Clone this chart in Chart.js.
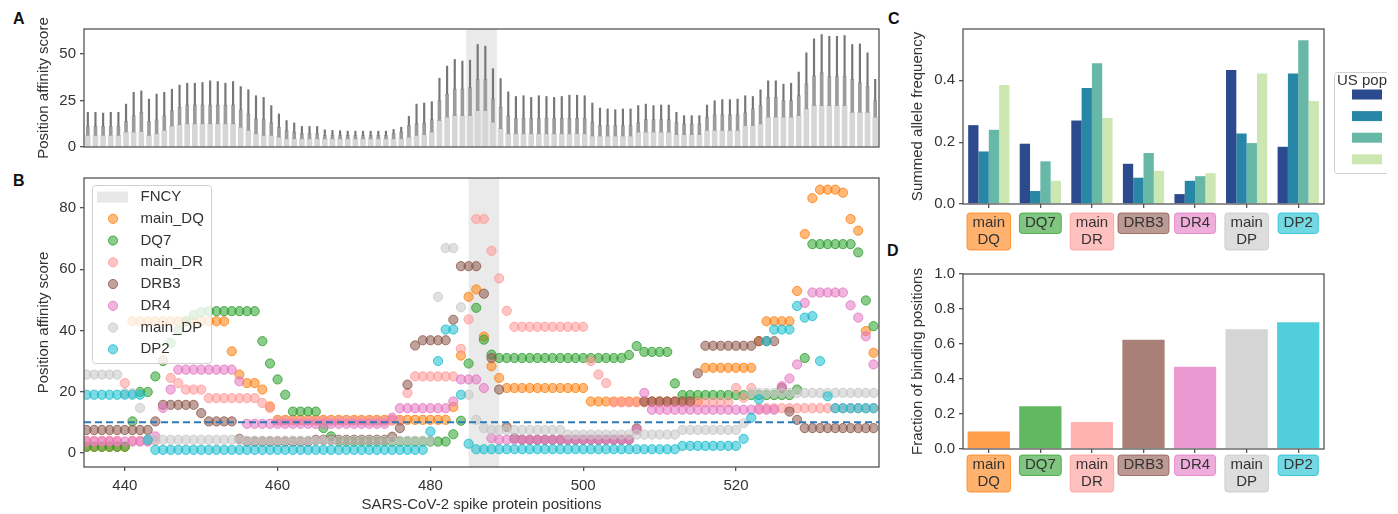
<!DOCTYPE html>
<html><head><meta charset="utf-8">
<script src="https://cdn.jsdelivr.net/npm/chart.js@4.4.1/dist/chart.umd.min.js"></script>
<style>
html,body{margin:0;padding:0;background:#fff;width:1398px;height:514px;overflow:hidden;position:relative;}
canvas{position:absolute;}
.lbl{position:absolute;font:bold 16px "Liberation Sans",Arial,sans-serif;color:#111;line-height:16px;}
</style></head><body>
<div class="lbl" style="left:13px;top:11px">A</div>
<div class="lbl" style="left:13px;top:173px">B</div>
<div class="lbl" style="left:888px;top:11px">C</div>
<div class="lbl" style="left:887px;top:243px">D</div>
<canvas id="cA" width="900" height="160" style="left:0;top:0"></canvas>
<canvas id="cB" width="900" height="354" style="left:0;top:160px"></canvas>
<canvas id="cC" width="518" height="260" style="left:880px;top:0"></canvas>
<canvas id="cD" width="518" height="254" style="left:880px;top:260px"></canvas>
<script>
// ---------- data ----------
const positions = [435,436,437,438,439,440,441,442,443,444,445,446,447,448,449,450,451,452,453,454,
455,456,457,458,459,460,461,462,463,464,465,466,467,468,469,470,471,472,473,474,
475,476,477,478,479,480,481,482,483,484,485,486,487,488,489,490,491,492,493,494,
495,496,497,498,499,500,501,502,503,504,505,506,507,508,509,510,511,512,513,514,
515,516,517,518,519,520,521,522,523,524,525,526,527,528,529,530,531,532,533,534,
535,536,537,538];

// Panel A: per-position score distribution (lower box edge, upper box edge, maximum)
const aQ1 = [6.2,6.2,6.2,6.2,6.2,8,8,8.3,6.2,7.1,
8.9,11.2,11.9,12.4,12.4,12.4,12.4,12.4,12.4,12.4,
10.6,8.9,7.1,6.2,6.2,5.3,4.4,4.4,4.4,4.4,
4.4,4.4,4.4,4.4,4.4,4.4,4.4,4.4,4.4,4.4,
4.4,4.4,5.3,6.2,6.6,8,14.2,16,16.8,16.8,
16.8,19.5,19.5,13.3,9.8,7.1,7.1,7.1,7.1,7.1,
7.1,7.1,7.1,7.1,7.1,7.1,5.9,5.9,5.9,5.9,
5.9,5.9,8,8,8,8,8,6.6,6.6,6.6,
6.6,8.9,8.9,8.9,8.9,8.9,11.5,11.5,12.4,16,
16,16,16,16.8,20.4,22.2,22.2,22.2,22.2,22.2,
18.6,18.6,18.6,16];
const aQ3 = [11,11,11,11,11,13.7,16.8,18.6,13.7,14.5,
16.8,19.5,21.3,22.5,22.5,22.5,22.5,22.5,22.5,22.5,
19.9,17.7,15.1,14.7,12.9,10.6,8.9,8.0,7.1,7.1,
7.1,6.2,6.2,6.2,6.2,6.2,6.2,6.2,6.2,6.2,
7.1,8.0,11.5,12.4,12.9,14.7,24.8,28.4,31.0,31.0,
31.9,36.3,36.3,25.7,21.3,16.8,15.4,15.4,15.4,15.4,
15.4,15.4,15.4,15.4,15.4,15.4,13.3,11.5,11.5,11.5,
11.5,11.5,12.9,14.7,14.7,14.7,14.7,12.9,12.4,12.4,
12.4,16.0,17.2,17.2,17.2,17.2,18.3,20.4,22.2,26.6,
26.6,24.8,24.8,27.5,33.7,38.1,39.9,37.8,37.8,37.8,
36.3,34.6,32.4,24.8];
const aMax = [18.6,18.6,18.2,18.6,18.6,23.0,29.3,30.1,25.7,28.4,
29.3,31.0,33.2,34.2,34.2,34.6,35.5,35.1,34.2,35.1,
32.4,30.7,27.5,26.6,22.2,17.7,14.2,12.9,11.0,11.0,
11.0,9.2,8.9,8.7,8.5,8.5,8.5,8.5,8.5,8.5,
9.4,10.6,16.5,23.0,23.6,24.3,36.9,43.4,47.0,46.1,
46.6,55.0,54.1,42.0,36.7,29.6,27.1,27.5,26.6,27.5,
27.1,26.6,27.1,27.8,27.8,27.5,23.6,20.9,20.4,20.0,
20.4,20.4,22.2,23.0,22.2,22.5,22.5,18.6,16.8,16.8,
16.8,22.5,24.8,25.4,25.4,25.7,27.5,27.1,30.7,35.5,
35.5,33.7,34.2,40.2,50.5,58.0,60.3,59.4,59.4,59.8,
55.0,55.3,50.5,36.3];

// Panel B series
const mainDQ = [2,2,2,2,2,2,43,43,43,43,
43,43,43,43,43,43,43,43,43,33.2,
25.6,22.8,22.8,20.7,15.2,10.8,10.8,10.8,10.8,10.8,
10.8,10.8,10.8,10.8,10.8,10.8,10.8,10.8,10.8,10.8,
10.8,10.8,10.8,10.8,10.8,10.8,10.8,10.8,15,31.8,
51,53.4,38,28.3,24.5,21.2,21.2,21.2,21.2,21.2,
21.2,21.2,21.2,21.2,21.2,21.2,16.8,16.8,16.8,16.8,
16.8,16.8,16.8,16.8,16.8,16.8,16.8,16.8,16.8,16.8,
16.8,27.8,27.8,27.8,27.8,27.8,27.8,27.8,36.5,43,
43,43,43,52.9,71.5,83.2,86,86,86,85,
76.4,72.6,39.8,32.7];
const dq7 = [2,2,2,2,2,2,10.3,19.9,19.9,25,
30,36,40,43,45,46,46.3,46.3,46.3,46.3,
46.3,46.3,46.3,36.5,29.2,24,19,13.5,13.5,13.5,
13.5,8.1,5.4,3.7,3.7,3.7,3.7,3.7,3.7,3.7,
3.7,3.7,3.7,3.7,3.7,3.7,3.7,3.7,6.1,10.5,
29.2,47.4,37,32.1,31,31,31,31,31,31,
31,31,31,31,31,31,31,31,31,31,
31,32,34.9,33,33,33,33,22.7,18.9,18.9,
18.9,18.9,18.9,18.9,18.9,18.9,18.9,18.9,18.9,18.9,
18.9,18.9,18.9,20.7,31,68.2,68.2,68.2,68.2,68.2,
68.2,65.5,49.8,41.4];
const mainDR = [4,4,4,4,4,22.8,4,4,4,4,
30.5,24.5,22.8,20.7,20.7,20.7,17.9,17.9,17.9,17.9,
17.9,17.9,17.9,16.3,14.7,10.5,10.5,10.5,10.5,10.5,
10.5,10.5,10.5,10.5,10.5,10.5,10.5,10.5,10.5,10.5,
10.5,10.5,19.6,25,25,25,25,25,25,34,
43.6,76.4,76.4,66,57,46.4,41.2,41.2,41.2,41.2,
41.2,41.2,41.2,41.2,41.2,41.2,30,25.6,22.8,16.5,
16.5,16.5,16.5,16.5,16.5,16.5,16.5,16.5,16.5,16.5,
16.5,16.5,16.5,16.5,16.5,21.2,18,21.2,14.6,14.6,
14.6,14.6,14.6,14.6,14.6,14.6,14.6,14.6,14.6,14.6,
14.6,14.6,14.6,14.6];
const drb3 = [7.5,7.5,7.5,7.5,7.5,7.5,7.5,7.5,7.5,10.3,
15.7,15.7,15.7,15.7,15.7,13,10.3,10.3,10.3,10.3,
4.6,3.7,3.7,3.7,3.7,3.7,3.7,3.7,3.7,3.7,
4.3,4.3,4.3,4.3,4.3,4.3,4.3,4.3,4.3,4.3,
5.3,8.1,22.3,35.1,36.8,36.8,36.8,36.8,43.5,61,
61,61,52,31,20.7,8.5,4.8,4.3,4.3,4.3,
4.3,4.3,4.3,4.3,4.3,4.3,4.3,4.3,4.3,4.3,
4.3,4.3,8,16.8,16.8,16.8,16.8,16.8,16.8,16.8,
26,35,35,35,35,35,35,35,36.5,36.5,
36.5,21.2,13.5,10.8,8.1,8.1,8.1,8.1,8.1,8.1,
8.1,8.1,8.1,8.1];
const dr4 = [3.7,3.7,3.7,3.7,3.7,3.7,3.7,3.7,3.7,5.4,
14.7,20.7,27.2,27.2,27.2,27.2,27.2,27.2,27.2,27.2,
23.4,9.5,9.5,9.5,9.5,9.5,9.5,9.5,9.5,9.5,
9.5,9.5,9.5,9.5,9.5,9.5,9.5,9.5,9.5,9.5,
11.5,14.6,14.6,14.6,14.6,14.6,14.6,14.6,16.8,24,
24,24,21.2,4.8,4.3,4.3,4.3,4.3,4.3,4.3,
4.3,4.3,4.3,4.3,4.3,4.3,4.3,4.3,4.3,4.3,
4.3,4.3,7.5,19.6,14.1,14.1,14.1,14.1,14.1,14.1,
14.1,14.1,14.1,14.1,14.1,14.1,14.1,14.1,14.1,14.1,
14.1,21.8,24.3,28.9,49,52.4,52.4,52.4,52.4,52.4,
48.2,44.2,38.1,28.9];
const mainDP = [25.6,25.6,25.6,25.6,25.6,19.5,19.5,14.7,4.3,4.3,
4.3,4.3,4.3,4.3,4.3,4.3,4.3,4.3,4.3,4.3,
4.3,4,4,4,4,4,4,4,4,4,
4,4,4,4,4,4,4,4,4,4,
4,4,4,4,4,4,51,66.9,66.9,47.6,
19,10.8,8.1,7.5,7.5,7.5,7.5,7.5,7.5,7.5,
7.5,7.5,7.5,6,6,6,6,6,6,6,
6,6,6,6,6,6,6,6,7.5,7.5,
7.5,7.5,7.5,7.5,7.5,7.5,9.7,19.6,19.6,19.6,
19.6,19.6,19.6,19.6,19.6,19.6,19.6,19.6,19.6,19.6,
19.6,19.6,19.6,19.6];
const dp2 = [19,19,19,19,19,19,19,19,4.3,1,
1,1,1,1,1,1,1,1,1,1,
1,1,1,1,1,1,1,1,1,1,
1,1,1,1,1,1,1,1,1,1,
1,1,1,1,1,7,30,40.3,40.3,19,
3,1.2,1.2,1.2,1.2,1.2,1.2,1.2,1.2,1.2,
1.2,1.2,1.2,1.2,1.2,1.2,1.2,1.2,1.2,1.2,
1.2,1.2,1.2,1.2,1.2,1.2,1.2,1.2,2.3,2.3,
2.3,2.3,2.3,2.3,2.3,2.3,4.6,11.5,17.5,36.5,
40.3,40.3,40.3,48,44.2,44.7,30,18.5,14.6,14.6,
14.6,14.6,14.6,14.6];
const threshold = 10;
const fncyStart = 485, fncyEnd = 489;
const bXTicks = [440,460,480,500,520];
const bYTicks = [0,20,40,60,80];
const aYTicks = [0,25,50];

// Panels C and D
const groups = [['main','DQ'],['DQ7'],['main','DR'],['DRB3'],['DR4'],['main','DP'],['DP2']];
const freqPop1 = [0.255,0.195,0.27,0.13,0.032,0.433,0.185];
const freqPop2 = [0.17,0.042,0.375,0.085,0.075,0.228,0.422];
const freqPop3 = [0.24,0.138,0.455,0.165,0.09,0.197,0.53];
const freqPop4 = [0.385,0.075,0.278,0.107,0.1,0.422,0.333];
const bindingFraction = [0.1,0.245,0.155,0.625,0.47,0.685,0.725];
const cYTicks = [0,0.2,0.4];
const dYTicks = [0,0.2,0.4,0.6,0.8,1.0];

// ---------- styling ----------
const FONT = "'Liberation Sans', Arial, Helvetica, sans-serif";
Chart.defaults.font.family = FONT;
Chart.defaults.font.size = 15;
Chart.defaults.color = '#333';
const groupRGB = [[255,127,14],[44,160,44],[255,152,150],[140,86,75],[227,119,194],[199,199,199],[23,190,207]];
const rgba = (c,a)=>`rgba(${c[0]},${c[1]},${c[2]},${a})`;
const popColors = ['#2b4b8e','#2886a7','#67b8a7','#cde7b3'];

function yAxis(min,max,ticks,fmt,title,titlePad,width){
  return {type:'linear',min,max,
    afterBuildTicks:s=>{s.ticks=ticks.map(v=>({value:v}));},
    afterFit:s=>{s.width=width;},
    ticks:{callback:fmt,padding:4,color:'#333',font:{size:15}},
    grid:{display:true,drawOnChartArea:false,drawTicks:true,tickLength:4,color:'#555',lineWidth:1.3},
    border:{display:false},
    title:{display:true,text:title,color:'#333',font:{size:15},padding:{top:titlePad,bottom:0}}
  };
}
const frame = {id:'frame',afterDraw(chart){
  const a=chart.chartArea,c=chart.ctx;c.save();c.strokeStyle='#555';c.lineWidth=1.3;
  c.strokeRect(a.left,a.top,a.right-a.left,a.bottom-a.top);c.restore();}};
function rr(c,x,y,w,h,r){c.beginPath();c.moveTo(x+r,y);c.lineTo(x+w-r,y);c.quadraticCurveTo(x+w,y,x+w,y+r);
  c.lineTo(x+w,y+h-r);c.quadraticCurveTo(x+w,y+h,x+w-r,y+h);c.lineTo(x+r,y+h);c.quadraticCurveTo(x,y+h,x,y+h-r);
  c.lineTo(x,y+r);c.quadraticCurveTo(x,y,x+r,y);c.closePath();}
const shadeCol = 'rgba(185,185,185,0.3)';

// ---------- Panel A ----------
new Chart(document.getElementById('cA'),{
  type:'bar',
  data:{labels:positions,datasets:[
    {data:aQ1,backgroundColor:'#d6d6d6',barThickness:5,grouped:false,order:3},
    {data:aQ1.map((v,i)=>[v,aQ3[i]]),backgroundColor:'#9c9c9c',barThickness:3,grouped:false,order:2},
    {data:aQ3.map((v,i)=>[v,aMax[i]]),backgroundColor:'#767676',barThickness:1.5,grouped:false,order:1}
  ]},
  options:{responsive:false,animation:false,
    layout:{padding:{top:29,right:21,bottom:12,left:0}},
    plugins:{legend:{display:false},tooltip:{enabled:false}},
    scales:{x:{display:false,offset:true},
      y:yAxis(0,63.3,aYTicks,v=>String(v),'Position affinity score',35,84)}},
  plugins:[{id:'shadeA',beforeDatasetsDraw(chart){
      const x=chart.scales.x,a=chart.chartArea,c=chart.ctx;
      const x1=x.getPixelForValue(positions.indexOf(fncyStart)-0.5),x2=x.getPixelForValue(positions.indexOf(fncyEnd)-0.5);
      c.save();c.fillStyle=shadeCol;c.fillRect(x1,a.top,x2-x1,a.bottom-a.top);c.restore();}},frame]
});

// ---------- Panel B ----------
const bSeries = [
  {label:'main_DQ',values:mainDQ,rgb:groupRGB[0]},
  {label:'DQ7',values:dq7,rgb:groupRGB[1]},
  {label:'main_DR',values:mainDR,rgb:groupRGB[2]},
  {label:'DRB3',values:drb3,rgb:groupRGB[3]},
  {label:'DR4',values:dr4,rgb:groupRGB[4]},
  {label:'main_DP',values:mainDP,rgb:groupRGB[5]},
  {label:'DP2',values:dp2,rgb:groupRGB[6]}
];
const bXMin = 434.66, bXMax = 538.72;
const bDatasets = bSeries.map((s,k)=>({type:'scatter',label:s.label,
  data:s.values.map((v,i)=>({x:positions[i],y:v})),
  backgroundColor:rgba(s.rgb,0.55),borderColor:rgba(s.rgb,0.8),borderWidth:1,
  pointRadius:4.6,pointHoverRadius:4.6,order:bSeries.length-k+1,clip:0}));
bDatasets.push({type:'line',label:'threshold',data:[{x:bXMin,y:threshold},{x:bXMax,y:threshold}],
  borderColor:'#2f78b4',borderWidth:2,borderDash:[7,4],pointRadius:0,order:0,clip:0});
const legendB = {id:'legendB',afterDraw(chart){
  const c=chart.ctx;c.save();
  rr(c,92.5,25.5,119,178,3);c.fillStyle='rgba(255,255,255,0.8)';c.fill();c.strokeStyle='#d0d0d0';c.lineWidth=1;c.stroke();
  c.font='15px '+FONT;c.textBaseline='middle';c.fillStyle='#333';
  c.fillStyle='rgba(185,185,185,0.35)';c.fillRect(97,31.5,31,11);
  c.fillStyle='#333';c.fillText('FNCY',140.5,37);
  bSeries.forEach((s,k)=>{const y=58.8+21.75*k;
    c.beginPath();c.arc(113,y,4.6,0,Math.PI*2);c.fillStyle=rgba(s.rgb,0.55);c.fill();
    c.strokeStyle=rgba(s.rgb,0.8);c.lineWidth=1;c.stroke();
    c.fillStyle='#333';c.fillText(s.label,140.5,y);});
  c.restore();}};
new Chart(document.getElementById('cB'),{
  type:'scatter',
  data:{datasets:bDatasets},
  options:{responsive:false,animation:false,
    layout:{padding:{top:18,right:21,bottom:0,left:0}},
    plugins:{legend:{display:false},tooltip:{enabled:false}},
    scales:{
      x:{type:'linear',min:bXMin,max:bXMax,
        afterBuildTicks:s=>{s.ticks=bXTicks.map(v=>({value:v}));},
        afterFit:s=>{s.height=47;},
        ticks:{padding:6,color:'#333',font:{size:15}},
        grid:{display:true,drawOnChartArea:false,drawTicks:true,tickLength:4,color:'#555',lineWidth:1.3},
        border:{display:false},
        title:{display:true,text:'SARS-CoV-2 spike protein positions',color:'#333',font:{size:15},padding:{top:0,bottom:0}}},
      y:yAxis(-4.6,89.8,bYTicks,v=>String(v),'Position affinity score',35,84)}},
  plugins:[{id:'shadeB',beforeDatasetsDraw(chart){
      const x=chart.scales.x,a=chart.chartArea,c=chart.ctx;
      const x1=x.getPixelForValue(fncyStart),x2=x.getPixelForValue(fncyEnd);
      c.save();c.fillStyle=shadeCol;c.fillRect(x1,a.top,x2-x1,a.bottom-a.top);c.restore();}},frame,legendB]
});

// ---------- label boxes for C / D ----------
function boxPlugin(pad){return {id:'boxes',beforeDraw(chart){
  const xs=chart.scales.x,c=chart.ctx;c.save();c.font='15px '+FONT;
  groups.forEach((g,i)=>{const x=xs.getPixelForTick(i);
    const w=Math.max(...g.map(t=>c.measureText(t).width))+11;
    const y=xs.top+4+pad-2,h=g.length*16.5+4;
    rr(c,x-w/2,y,w,h,3);c.fillStyle=rgba(groupRGB[i],0.6);c.fill();
    c.strokeStyle=rgba(groupRGB[i],0.75);c.lineWidth=1;c.stroke();});
  c.restore();}};}
function xCat(pad,height){return {type:'category',offset:true,
  afterFit:s=>{s.height=height;},
  ticks:{padding:pad,autoSkip:false,maxRotation:0,color:'#333',font:{size:15,lineHeight:1.1}},
  grid:{display:true,drawOnChartArea:false,drawTicks:true,tickLength:4,color:'#555',lineWidth:1.3,offset:false},
  border:{display:false}};}

// ---------- Panel C ----------
const popSeries = [freqPop1,freqPop2,freqPop3,freqPop4];
const legendC = {id:'legendC',afterDraw(chart){
  const c=chart.ctx;c.save();
  c.beginPath();c.rect(0,0,507,chart.height);c.clip();
  rr(c,454.5,72.5,120,101,3);c.fillStyle='rgba(255,255,255,0.85)';c.fill();c.strokeStyle='#d0d0d0';c.lineWidth=1;c.stroke();
  c.font='15px '+FONT;c.textBaseline='middle';c.fillStyle='#333';c.fillText('US population',457,81);
  popColors.forEach((col,k)=>{c.fillStyle=col;c.fillRect(472,89.5+21.6*k,30,10);});
  c.restore();}};
new Chart(document.getElementById('cC'),{
  type:'bar',
  data:{labels:groups,datasets:popSeries.map((d,k)=>({label:'US population '+(k+1),data:d,backgroundColor:popColors[k],
    categoryPercentage:0.8,barPercentage:1.0}))},
  options:{responsive:false,animation:false,
    layout:{padding:{top:29,right:74,bottom:0,left:0}},
    plugins:{legend:{display:false},tooltip:{enabled:false}},
    scales:{x:xCat(7,56),y:yAxis(0,0.566,cYTicks,v=>v.toFixed(1),'Summed allele frequency',29,83)}},
  plugins:[boxPlugin(7),frame,legendC]
});

// ---------- Panel D ----------
new Chart(document.getElementById('cD'),{
  type:'bar',
  data:{labels:groups,datasets:[{label:'Fraction of binding positions',data:bindingFraction,
    backgroundColor:groupRGB.map(c=>rgba(c,0.75)),categoryPercentage:1.0,barPercentage:0.82}]},
  options:{responsive:false,animation:false,
    layout:{padding:{top:14,right:74,bottom:0,left:0}},
    plugins:{legend:{display:false},tooltip:{enabled:false}},
    scales:{x:xCat(4,65),y:yAxis(0,1.0,dYTicks,v=>v.toFixed(1),'Fraction of binding positions',29,83)}},
  plugins:[boxPlugin(4),frame]
});
</script>
</body></html>
